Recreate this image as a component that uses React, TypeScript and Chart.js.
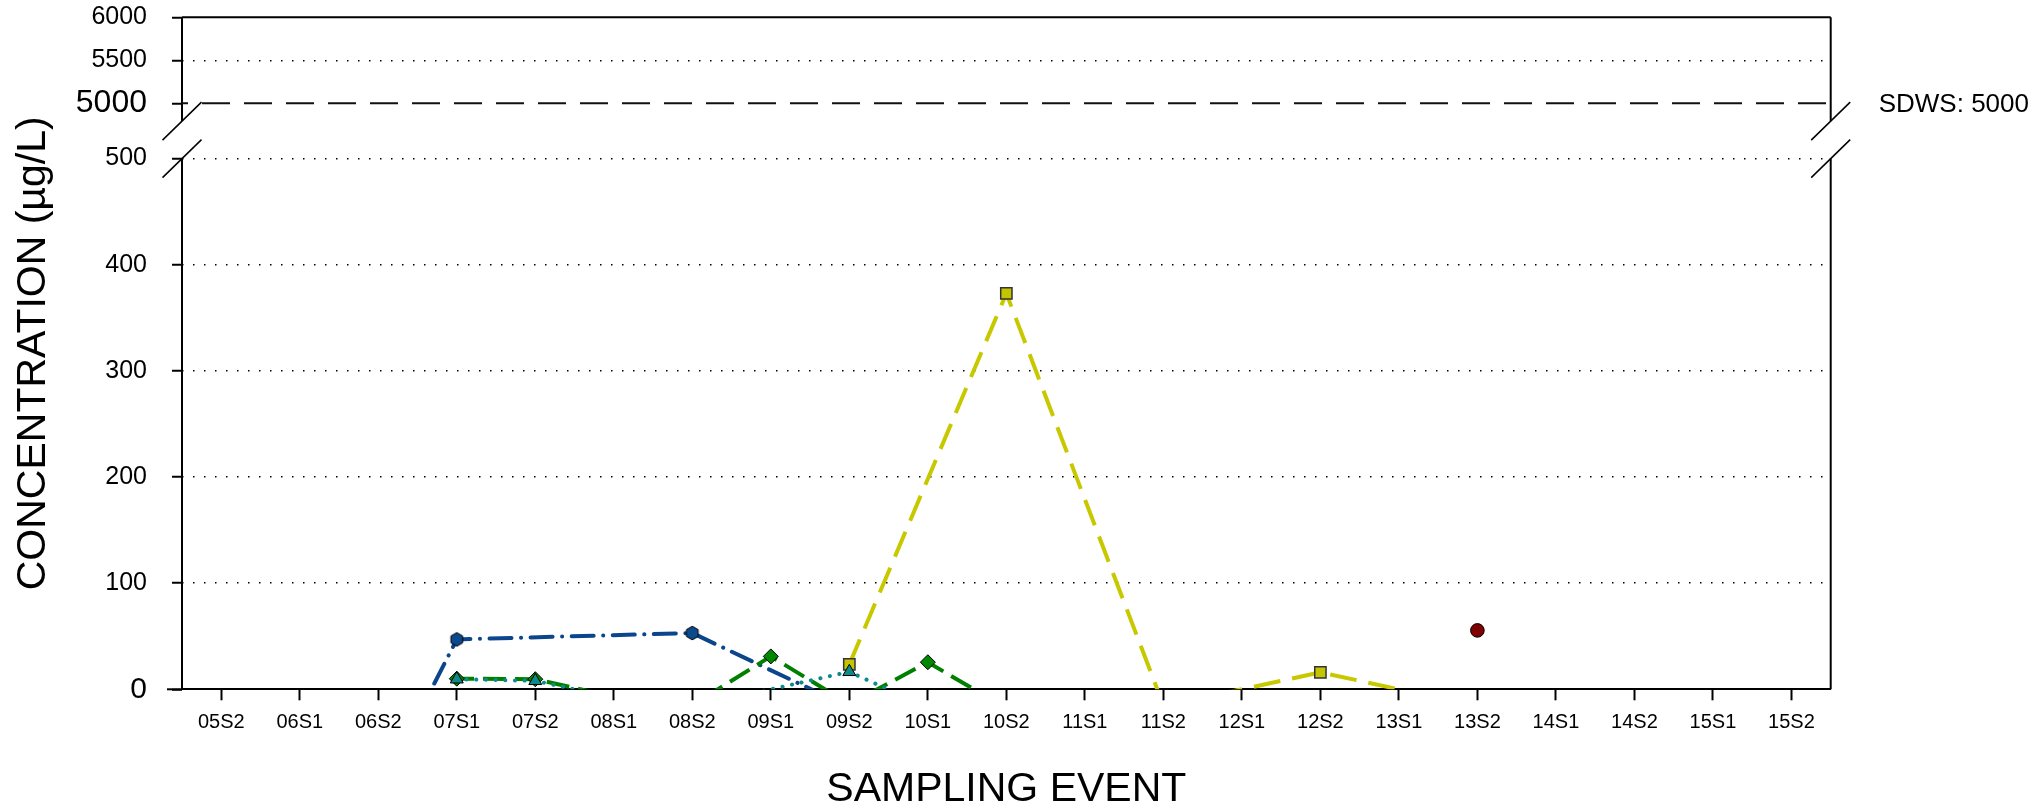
import React, { useEffect, useRef } from 'react';
import { Chart, registerables } from 'chart.js';

Chart.register(...registerables);

// ---- data -------------------------------------------------------------
const CATEGORIES = [
  '05S2', '06S1', '06S2', '07S1', '07S2', '08S1', '08S2', '09S1', '09S2', '10S1', '10S2',
  '11S1', '11S2', '12S1', '12S2', '13S1', '13S2', '14S1', '14S2', '15S1', '15S2',
];
// values <= 0 are plotted without a marker (non-detects)
const SERIES_HEXAGON = [null, null, -98, 47, null, null, 53, null, -17, null, null, null, null, null, null, null, null, null, null, null, null];
const SERIES_DIAMOND = [null, null, -92, 10, 9.5, -7, -15, 31, -14, 25.5, -18, null, null, null, null, null, null, null, null, null, null];
const SERIES_TRIANGLE = [null, null, null, 9.5, 8, -8, -15, 0, 16.5, -17, null, null, null, null, null, null, null, null, null, null, null];
const SERIES_SQUARE = [null, null, null, null, null, null, null, null, 23.5, null, 373, null, -15, 0, 16, 0, null, null, null, null, null];
const SERIES_CIRCLE = [null, null, null, null, null, null, null, null, null, null, null, null, null, null, null, null, 55.5, null, null, null, null];

const LOWER_TICKS = [0, 100, 200, 300, 400, 500];
const UPPER_TICKS = [5000, 5500, 6000];
const SDWS_VALUE = 5000;
const SDWS_LABEL = 'SDWS: 5000';
const Y_TITLE = 'CONCENTRATION (\u00b5g/L)';
const X_TITLE = 'SAMPLING EVENT';

// ---- styling ----------------------------------------------------------
const FONT = "'Liberation Sans', Arial, Helvetica, sans-serif";
const W = 2038;
const H = 807;
const AREA_TOP = 17.3;
const AREA_BOTTOM = 689.3;
const AREA_LEFT = 182;
const AREA_RIGHT = 1830.7;
const SPLIT = 120; // pixel where upper segment ends
const LOWER_PX_PER_UNIT = 1.0614;
const UPPER_PX_PER_UNIT = 0.086;
const LOWER_MAX = (AREA_BOTTOM - SPLIT) / LOWER_PX_PER_UNIT;
const UPPER_MIN = 6000 - (SPLIT - AREA_TOP) / UPPER_PX_PER_UNIT;

const markerRadius = (r: number) => (ctx: any) =>
  typeof ctx.raw === 'number' && ctx.raw > 0 ? r : 0;

function makeHexagon(): HTMLCanvasElement {
  const c = document.createElement('canvas');
  c.width = 16;
  c.height = 16;
  const g = c.getContext('2d')!;
  g.beginPath();
  for (let k = 0; k < 6; k++) {
    const a = -Math.PI / 2 + (k * Math.PI) / 3;
    const x = 8 + 6.8 * Math.cos(a);
    const y = 8 + 6.8 * Math.sin(a);
    if (k === 0) g.moveTo(x, y);
    else g.lineTo(x, y);
  }
  g.closePath();
  g.fillStyle = '#0B4A8C';
  g.fill();
  g.strokeStyle = '#000';
  g.lineWidth = 1;
  g.stroke();
  return c;
}

const decorPlugin = {
  id: 'decor',
  afterDraw(chart: any) {
    const { ctx, chartArea: a, scales } = chart;
    const yl = scales.y;
    const yt = scales.yTop;
    const L = a.left;
    const R = a.right;
    const T = a.top;
    const B = a.bottom;
    const c2 = yl.getPixelForValue(500);
    const c1 = c2 - 37.5;
    const line = (x1: number, y1: number, x2: number, y2: number) => {
      ctx.beginPath();
      ctx.moveTo(x1, y1);
      ctx.lineTo(x2, y2);
      ctx.stroke();
    };
    ctx.save();
    ctx.strokeStyle = '#000';
    ctx.setLineDash([]);
    ctx.lineWidth = 2;
    line(L, T, R, T);
    line(L, T, L, c1);
    line(L, c2, L, B);
    line(R, T, R, c1);
    line(R, c2, R, B);
    line(L - 15, B, L, B);
    ctx.lineWidth = 1.5;
    for (const x of [L, R]) {
      for (const c of [c1, c2]) line(x - 19.5, c + 19, x + 19.5, c - 19);
    }
    // SDWS reference line
    const ys = yt.getPixelForValue(SDWS_VALUE);
    ctx.lineWidth = 2;
    ctx.strokeStyle = '#111';
    ctx.setLineDash([28, 14]);
    ctx.lineDashOffset = -20;
    line(L, ys, R, ys);
    ctx.setLineDash([]);

    ctx.fillStyle = '#000';
    ctx.font = `26px ${FONT}`;
    ctx.textAlign = 'left';
    ctx.textBaseline = 'alphabetic';
    ctx.fillText(SDWS_LABEL, R + 48, ys + 9);

    ctx.font = `41px ${FONT}`;
    ctx.textAlign = 'center';
    ctx.fillText(X_TITLE, (L + R) / 2, 801);

    ctx.translate(45, (T + B) / 2);
    ctx.rotate(-Math.PI / 2);
    ctx.fillText(Y_TITLE, 0, 0);
    ctx.restore();
  },
};

const fitY = (s: any) => {
  s.width = AREA_LEFT;
  s.paddingTop = 0;
  s.paddingBottom = 0;
};

export default function App() {
  const ref = useRef<HTMLCanvasElement>(null);
  useEffect(() => {
    document.body.style.margin = '0';
    const canvas = ref.current!;
    const hex = makeHexagon();
    const common = {
      spanGaps: true,
      clip: 0,
      fill: false,
      tension: 0,
      pointBorderColor: '#000',
      pointBorderWidth: 1,
      pointHoverRadius: 0,
    };
    const chart = new Chart(canvas, {
      type: 'line',
      data: {
        labels: CATEGORIES,
        datasets: [
          {
            ...common,
            label: 'hexagon',
            data: SERIES_HEXAGON,
            yAxisID: 'y',
            borderColor: '#0B468C',
            borderWidth: 4,
            borderDash: [22, 9.5, 0.1, 9.5],
            borderCapStyle: 'round',
            pointStyle: hex,
            pointRadius: markerRadius(7),
            pointBackgroundColor: '#0B4A8C',
            order: 4,
          },
          {
            ...common,
            label: 'diamond',
            data: SERIES_DIAMOND,
            yAxisID: 'y',
            borderColor: '#008000',
            borderWidth: 4,
            borderDash: [23, 9],
            pointStyle: 'rectRot',
            pointRadius: markerRadius(7.5),
            pointBackgroundColor: '#008800',
            order: 2,
          },
          {
            ...common,
            label: 'triangle',
            data: SERIES_TRIANGLE,
            yAxisID: 'y',
            borderColor: '#0E8A8A',
            borderWidth: 4,
            borderDash: [0.1, 9.6],
            borderCapStyle: 'round',
            pointStyle: 'triangle',
            pointRadius: markerRadius(7.5),
            pointBackgroundColor: '#0E8A8A',
            order: 1,
          },
          {
            ...common,
            label: 'square',
            data: SERIES_SQUARE,
            yAxisID: 'y',
            borderColor: '#C8C800',
            borderWidth: 4,
            borderDash: [27, 12],
            pointStyle: 'rect',
            pointRadius: markerRadius(8),
            pointBackgroundColor: '#C4C400',
            pointBorderColor: '#333',
            pointBorderWidth: 1.5,
            order: 3,
          },
          {
            ...common,
            label: 'circle',
            data: SERIES_CIRCLE,
            yAxisID: 'y',
            showLine: false,
            borderColor: '#7F0000',
            pointStyle: 'circle',
            pointRadius: markerRadius(6.8),
            pointBackgroundColor: '#7F0000',
            order: 5,
          },
        ] as any,
      },
      options: {
        responsive: false,
        animation: false,
        devicePixelRatio: 1,
        events: [],
        layout: { padding: { left: 0, top: AREA_TOP, right: W - AREA_RIGHT, bottom: 0 } },
        plugins: { legend: { display: false }, tooltip: { enabled: false }, title: { display: false } },
        scales: {
          x: {
            type: 'category',
            offset: true,
            grid: {
              display: true,
              drawOnChartArea: false,
              drawTicks: true,
              tickLength: 11,
              tickWidth: 2,
              tickColor: '#000',
            },
            border: { display: true, color: '#000', width: 2 },
            ticks: {
              color: '#000',
              font: { family: FONT, size: 20 },
              padding: 10,
              maxRotation: 0,
              minRotation: 0,
              autoSkip: false,
            },
            afterFit: (s: any) => {
              s.height = H - AREA_BOTTOM;
            },
          },
          y: {
            type: 'linear',
            position: 'left',
            stack: 'v',
            stackWeight: AREA_BOTTOM - SPLIT,
            min: 0,
            max: LOWER_MAX,
            afterBuildTicks: (s: any) => {
              s.ticks = LOWER_TICKS.map((v) => ({ value: v }));
            },
            grid: {
              color: (c: any) => (c.tick && c.tick.value === 0 ? 'rgba(0,0,0,0)' : '#000'),
              lineWidth: 1.5,
              borderDash: [1.5, 9.5],
              tickColor: '#000',
              tickWidth: 2,
              tickLength: 10,
              tickBorderDash: [],
            },
            border: { display: false, dash: [1.5, 9.5] },
            ticks: {
              color: '#000',
              padding: 25,
              autoSkip: false,
              callback: (v: any) => String(v),
              font: (c: any) => ({ family: FONT, size: c.tick && c.tick.value === 0 ? 30 : 25 }),
            },
            afterFit: fitY,
          },
          yTop: {
            type: 'linear',
            position: 'left',
            stack: 'v',
            stackWeight: SPLIT - AREA_TOP,
            min: UPPER_MIN,
            max: 6000,
            afterBuildTicks: (s: any) => {
              s.ticks = UPPER_TICKS.map((v) => ({ value: v }));
            },
            grid: {
              color: (c: any) => (c.tick && c.tick.value === 5500 ? '#000' : 'rgba(0,0,0,0)'),
              lineWidth: 1.5,
              borderDash: [1.5, 9.5],
              tickColor: '#000',
              tickWidth: 2,
              tickLength: 10,
              tickBorderDash: [],
            },
            border: { display: false, dash: [1.5, 9.5] },
            ticks: {
              color: '#000',
              padding: 25,
              autoSkip: false,
              callback: (v: any) => String(v),
              font: (c: any) => ({ family: FONT, size: c.tick && c.tick.value === 5000 ? 32 : 25 }),
            },
            afterFit: fitY,
          },
        },
      } as any,
      plugins: [decorPlugin],
    });
    return () => chart.destroy();
  }, []);

  return (
    <div style={{ position: 'absolute', left: 0, top: 0, width: W, height: H, background: '#fff' }}>
      <canvas ref={ref} width={W} height={H} style={{ display: 'block', width: W, height: H }} />
    </div>
  );
}
